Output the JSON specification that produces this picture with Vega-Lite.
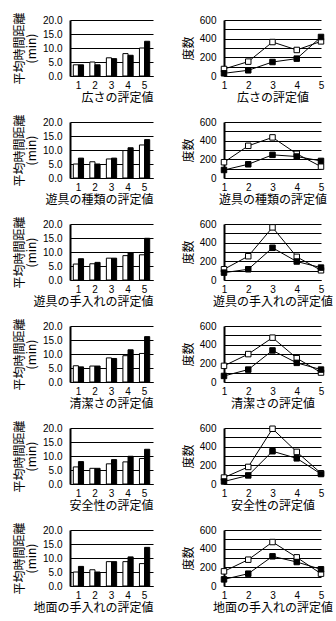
{
"$schema": "https://vega.github.io/schema/vega-lite/v6.json",
"background": "white",
"padding": {"left": 13, "top": 11, "right": 0, "bottom": 0},
"bounds": "flush",
"columns": 2,
"spacing": {"row": 46, "column": 71},
"datasets": {
"bars": [
{"item":"広さ","x":1,"g":"A","v":4.0},{"item":"広さ","x":2,"g":"A","v":5.0},{"item":"広さ","x":3,"g":"A","v":6.5},{"item":"広さ","x":4,"g":"A","v":8.0},{"item":"広さ","x":5,"g":"A","v":10.0},
{"item":"広さ","x":1,"g":"B","v":4.0},{"item":"広さ","x":2,"g":"B","v":4.0},{"item":"広さ","x":3,"g":"B","v":6.2},{"item":"広さ","x":4,"g":"B","v":7.4},{"item":"広さ","x":5,"g":"B","v":12.4},
{"item":"遊具の種類","x":1,"g":"A","v":5.0},{"item":"遊具の種類","x":2,"g":"A","v":5.8},{"item":"遊具の種類","x":3,"g":"A","v":6.8},{"item":"遊具の種類","x":4,"g":"A","v":9.8},{"item":"遊具の種類","x":5,"g":"A","v":11.8},
{"item":"遊具の種類","x":1,"g":"B","v":7.1},{"item":"遊具の種類","x":2,"g":"B","v":5.0},{"item":"遊具の種類","x":3,"g":"B","v":7.1},{"item":"遊具の種類","x":4,"g":"B","v":10.8},{"item":"遊具の種類","x":5,"g":"B","v":13.7},
{"item":"遊具の手入れ","x":1,"g":"A","v":5.7},{"item":"遊具の手入れ","x":2,"g":"A","v":5.8},{"item":"遊具の手入れ","x":3,"g":"A","v":7.8},{"item":"遊具の手入れ","x":4,"g":"A","v":8.7},{"item":"遊具の手入れ","x":5,"g":"A","v":9.0},
{"item":"遊具の手入れ","x":1,"g":"B","v":7.6},{"item":"遊具の手入れ","x":2,"g":"B","v":6.3},{"item":"遊具の手入れ","x":3,"g":"B","v":7.8},{"item":"遊具の手入れ","x":4,"g":"B","v":9.8},{"item":"遊具の手入れ","x":5,"g":"B","v":14.9},
{"item":"清潔さ","x":1,"g":"A","v":5.8},{"item":"清潔さ","x":2,"g":"A","v":5.7},{"item":"清潔さ","x":3,"g":"A","v":8.6},{"item":"清潔さ","x":4,"g":"A","v":9.4},{"item":"清潔さ","x":5,"g":"A","v":10.2},
{"item":"清潔さ","x":1,"g":"B","v":5.4},{"item":"清潔さ","x":2,"g":"B","v":5.7},{"item":"清潔さ","x":3,"g":"B","v":8.4},{"item":"清潔さ","x":4,"g":"B","v":11.5},{"item":"清潔さ","x":5,"g":"B","v":16.2},
{"item":"安全性","x":1,"g":"A","v":6.1},{"item":"安全性","x":2,"g":"A","v":5.6},{"item":"安全性","x":3,"g":"A","v":7.2},{"item":"安全性","x":4,"g":"A","v":7.9},{"item":"安全性","x":5,"g":"A","v":9.1},
{"item":"安全性","x":1,"g":"B","v":8.0},{"item":"安全性","x":2,"g":"B","v":5.6},{"item":"安全性","x":3,"g":"B","v":8.7},{"item":"安全性","x":4,"g":"B","v":9.9},{"item":"安全性","x":5,"g":"B","v":12.4},
{"item":"地面の手入れ","x":1,"g":"A","v":5.0},{"item":"地面の手入れ","x":2,"g":"A","v":5.8},{"item":"地面の手入れ","x":3,"g":"A","v":8.7},{"item":"地面の手入れ","x":4,"g":"A","v":8.7},{"item":"地面の手入れ","x":5,"g":"A","v":8.0},
{"item":"地面の手入れ","x":1,"g":"B","v":7.0},{"item":"地面の手入れ","x":2,"g":"B","v":5.0},{"item":"地面の手入れ","x":3,"g":"B","v":8.7},{"item":"地面の手入れ","x":4,"g":"B","v":10.4},{"item":"地面の手入れ","x":5,"g":"B","v":13.8}
],
"lines": [
{"item":"広さ","x":1,"g":"A","v":75},{"item":"広さ","x":2,"g":"A","v":154},{"item":"広さ","x":3,"g":"A","v":364},{"item":"広さ","x":4,"g":"A","v":279},{"item":"広さ","x":5,"g":"A","v":371},
{"item":"広さ","x":1,"g":"B","v":29},{"item":"広さ","x":2,"g":"B","v":61},{"item":"広さ","x":3,"g":"B","v":150},{"item":"広さ","x":4,"g":"B","v":186},{"item":"広さ","x":5,"g":"B","v":418},
{"item":"遊具の種類","x":1,"g":"A","v":169},{"item":"遊具の種類","x":2,"g":"A","v":345},{"item":"遊具の種類","x":3,"g":"A","v":435},{"item":"遊具の種類","x":4,"g":"A","v":259},{"item":"遊具の種類","x":5,"g":"A","v":122},
{"item":"遊具の種類","x":1,"g":"B","v":86},{"item":"遊具の種類","x":2,"g":"B","v":147},{"item":"遊具の種類","x":3,"g":"B","v":248},{"item":"遊具の種類","x":4,"g":"B","v":230},{"item":"遊具の種類","x":5,"g":"B","v":183},
{"item":"遊具の手入れ","x":1,"g":"A","v":115},{"item":"遊具の手入れ","x":2,"g":"A","v":255},{"item":"遊具の手入れ","x":3,"g":"A","v":564},{"item":"遊具の手入れ","x":4,"g":"A","v":248},{"item":"遊具の手入れ","x":5,"g":"A","v":104},
{"item":"遊具の手入れ","x":1,"g":"B","v":79},{"item":"遊具の手入れ","x":2,"g":"B","v":115},{"item":"遊具の手入れ","x":3,"g":"B","v":345},{"item":"遊具の手入れ","x":4,"g":"B","v":198},{"item":"遊具の手入れ","x":5,"g":"B","v":133},
{"item":"清潔さ","x":1,"g":"A","v":173},{"item":"清潔さ","x":2,"g":"A","v":299},{"item":"清潔さ","x":3,"g":"A","v":475},{"item":"清潔さ","x":4,"g":"A","v":255},{"item":"清潔さ","x":5,"g":"A","v":101},
{"item":"清潔さ","x":1,"g":"B","v":65},{"item":"清潔さ","x":2,"g":"B","v":133},{"item":"清潔さ","x":3,"g":"B","v":338},{"item":"清潔さ","x":4,"g":"B","v":205},{"item":"清潔さ","x":5,"g":"B","v":133},
{"item":"安全性","x":1,"g":"A","v":69},{"item":"安全性","x":2,"g":"A","v":183},{"item":"安全性","x":3,"g":"A","v":592},{"item":"安全性","x":4,"g":"A","v":344},{"item":"安全性","x":5,"g":"A","v":115},
{"item":"安全性","x":1,"g":"B","v":27},{"item":"安全性","x":2,"g":"B","v":92},{"item":"安全性","x":3,"g":"B","v":351},{"item":"安全性","x":4,"g":"B","v":275},{"item":"安全性","x":5,"g":"B","v":107},
{"item":"地面の手入れ","x":1,"g":"A","v":157},{"item":"地面の手入れ","x":2,"g":"A","v":282},{"item":"地面の手入れ","x":3,"g":"A","v":471},{"item":"地面の手入れ","x":4,"g":"A","v":307},{"item":"地面の手入れ","x":5,"g":"A","v":132},
{"item":"地面の手入れ","x":1,"g":"B","v":71},{"item":"地面の手入れ","x":2,"g":"B","v":132},{"item":"地面の手入れ","x":3,"g":"B","v":318},{"item":"地面の手入れ","x":4,"g":"B","v":257},{"item":"地面の手入れ","x":5,"g":"B","v":179}
]
},
"concat": [
{"width":83,"height":56,"data":{"name":"bars"},"transform":[{"filter":"datum.item==='広さ'"}],"mark":{"type":"bar","stroke":"black","strokeWidth":1},"encoding":{"x":{"field":"x","type":"ordinal","scale":{"paddingInner":0.38,"paddingOuter":0.2},"axis":{"title":"広さの評定値","titleAnchor":"end"}},"xOffset":{"field":"g","type":"nominal","scale":{"paddingInner":0}},"y":{"field":"v","type":"quantitative","scale":{"domain":[0,20]},"axis":{"values":[0,5,10,15,20],"format":".1f","title":["平均時間距離","(min)"]}},"fill":{"field":"g","type":"nominal","scale":{"domain":["A","B"],"range":["white","black"]},"legend":null}}},
{"width":97,"height":56,"data":{"name":"lines"},"transform":[{"filter":"datum.item==='広さ'"}],"encoding":{"x":{"field":"x","type":"ordinal","scale":{"type":"point","padding":0},"axis":{"title":"広さの評定値"}},"y":{"field":"v","type":"quantitative","scale":{"domain":[0,600]},"axis":{"values":[0,100,200,300,400,500,600],"title":"度数"}}},"layer":[{"mark":{"type":"line","color":"black","strokeWidth":1},"encoding":{"detail":{"field":"g"}}},{"mark":{"type":"point","shape":"square","filled":true,"stroke":"black","strokeWidth":1,"size":30,"opacity":1},"encoding":{"fill":{"field":"g","type":"nominal","scale":{"domain":["A","B"],"range":["white","black"]},"legend":null}}}]},
{"width":83,"height":56,"data":{"name":"bars"},"transform":[{"filter":"datum.item==='遊具の種類'"}],"mark":{"type":"bar","stroke":"black","strokeWidth":1},"encoding":{"x":{"field":"x","type":"ordinal","scale":{"paddingInner":0.38,"paddingOuter":0.2},"axis":{"title":"遊具の種類の評定値","titleAnchor":"end"}},"xOffset":{"field":"g","type":"nominal","scale":{"paddingInner":0}},"y":{"field":"v","type":"quantitative","scale":{"domain":[0,20]},"axis":{"values":[0,5,10,15,20],"format":".1f","title":["平均時間距離","(min)"]}},"fill":{"field":"g","type":"nominal","scale":{"domain":["A","B"],"range":["white","black"]},"legend":null}}},
{"width":97,"height":56,"data":{"name":"lines"},"transform":[{"filter":"datum.item==='遊具の種類'"}],"encoding":{"x":{"field":"x","type":"ordinal","scale":{"type":"point","padding":0},"axis":{"title":"遊具の種類の評定値"}},"y":{"field":"v","type":"quantitative","scale":{"domain":[0,600]},"axis":{"values":[0,100,200,300,400,500,600],"title":"度数"}}},"layer":[{"mark":{"type":"line","color":"black","strokeWidth":1},"encoding":{"detail":{"field":"g"}}},{"mark":{"type":"point","shape":"square","filled":true,"stroke":"black","strokeWidth":1,"size":30,"opacity":1},"encoding":{"fill":{"field":"g","type":"nominal","scale":{"domain":["A","B"],"range":["white","black"]},"legend":null}}}]},
{"width":83,"height":56,"data":{"name":"bars"},"transform":[{"filter":"datum.item==='遊具の手入れ'"}],"mark":{"type":"bar","stroke":"black","strokeWidth":1},"encoding":{"x":{"field":"x","type":"ordinal","scale":{"paddingInner":0.38,"paddingOuter":0.2},"axis":{"title":"遊具の手入れの評定値","titleAnchor":"end"}},"xOffset":{"field":"g","type":"nominal","scale":{"paddingInner":0}},"y":{"field":"v","type":"quantitative","scale":{"domain":[0,20]},"axis":{"values":[0,5,10,15,20],"format":".1f","title":["平均時間距離","(min)"]}},"fill":{"field":"g","type":"nominal","scale":{"domain":["A","B"],"range":["white","black"]},"legend":null}}},
{"width":97,"height":56,"data":{"name":"lines"},"transform":[{"filter":"datum.item==='遊具の手入れ'"}],"encoding":{"x":{"field":"x","type":"ordinal","scale":{"type":"point","padding":0},"axis":{"title":"遊具の手入れの評定値"}},"y":{"field":"v","type":"quantitative","scale":{"domain":[0,600]},"axis":{"values":[0,100,200,300,400,500,600],"title":"度数"}}},"layer":[{"mark":{"type":"line","color":"black","strokeWidth":1},"encoding":{"detail":{"field":"g"}}},{"mark":{"type":"point","shape":"square","filled":true,"stroke":"black","strokeWidth":1,"size":30,"opacity":1},"encoding":{"fill":{"field":"g","type":"nominal","scale":{"domain":["A","B"],"range":["white","black"]},"legend":null}}}]},
{"width":83,"height":56,"data":{"name":"bars"},"transform":[{"filter":"datum.item==='清潔さ'"}],"mark":{"type":"bar","stroke":"black","strokeWidth":1},"encoding":{"x":{"field":"x","type":"ordinal","scale":{"paddingInner":0.38,"paddingOuter":0.2},"axis":{"title":"清潔さの評定値","titleAnchor":"end"}},"xOffset":{"field":"g","type":"nominal","scale":{"paddingInner":0}},"y":{"field":"v","type":"quantitative","scale":{"domain":[0,20]},"axis":{"values":[0,5,10,15,20],"format":".1f","title":["平均時間距離","(min)"]}},"fill":{"field":"g","type":"nominal","scale":{"domain":["A","B"],"range":["white","black"]},"legend":null}}},
{"width":97,"height":56,"data":{"name":"lines"},"transform":[{"filter":"datum.item==='清潔さ'"}],"encoding":{"x":{"field":"x","type":"ordinal","scale":{"type":"point","padding":0},"axis":{"title":"清潔さの評定値"}},"y":{"field":"v","type":"quantitative","scale":{"domain":[0,600]},"axis":{"values":[0,100,200,300,400,500,600],"title":"度数"}}},"layer":[{"mark":{"type":"line","color":"black","strokeWidth":1},"encoding":{"detail":{"field":"g"}}},{"mark":{"type":"point","shape":"square","filled":true,"stroke":"black","strokeWidth":1,"size":30,"opacity":1},"encoding":{"fill":{"field":"g","type":"nominal","scale":{"domain":["A","B"],"range":["white","black"]},"legend":null}}}]},
{"width":83,"height":56,"data":{"name":"bars"},"transform":[{"filter":"datum.item==='安全性'"}],"mark":{"type":"bar","stroke":"black","strokeWidth":1},"encoding":{"x":{"field":"x","type":"ordinal","scale":{"paddingInner":0.38,"paddingOuter":0.2},"axis":{"title":"安全性の評定値","titleAnchor":"end"}},"xOffset":{"field":"g","type":"nominal","scale":{"paddingInner":0}},"y":{"field":"v","type":"quantitative","scale":{"domain":[0,20]},"axis":{"values":[0,5,10,15,20],"format":".1f","title":["平均時間距離","(min)"]}},"fill":{"field":"g","type":"nominal","scale":{"domain":["A","B"],"range":["white","black"]},"legend":null}}},
{"width":97,"height":56,"data":{"name":"lines"},"transform":[{"filter":"datum.item==='安全性'"}],"encoding":{"x":{"field":"x","type":"ordinal","scale":{"type":"point","padding":0},"axis":{"title":"安全性の評定値"}},"y":{"field":"v","type":"quantitative","scale":{"domain":[0,600]},"axis":{"values":[0,100,200,300,400,500,600],"title":"度数"}}},"layer":[{"mark":{"type":"line","color":"black","strokeWidth":1},"encoding":{"detail":{"field":"g"}}},{"mark":{"type":"point","shape":"square","filled":true,"stroke":"black","strokeWidth":1,"size":30,"opacity":1},"encoding":{"fill":{"field":"g","type":"nominal","scale":{"domain":["A","B"],"range":["white","black"]},"legend":null}}}]},
{"width":83,"height":56,"data":{"name":"bars"},"transform":[{"filter":"datum.item==='地面の手入れ'"}],"mark":{"type":"bar","stroke":"black","strokeWidth":1},"encoding":{"x":{"field":"x","type":"ordinal","scale":{"paddingInner":0.38,"paddingOuter":0.2},"axis":{"title":"地面の手入れの評定値","titleAnchor":"end"}},"xOffset":{"field":"g","type":"nominal","scale":{"paddingInner":0}},"y":{"field":"v","type":"quantitative","scale":{"domain":[0,20]},"axis":{"values":[0,5,10,15,20],"format":".1f","title":["平均時間距離","(min)"]}},"fill":{"field":"g","type":"nominal","scale":{"domain":["A","B"],"range":["white","black"]},"legend":null}}},
{"width":97,"height":56,"data":{"name":"lines"},"transform":[{"filter":"datum.item==='地面の手入れ'"}],"encoding":{"x":{"field":"x","type":"ordinal","scale":{"type":"point","padding":0},"axis":{"title":"地面の手入れの評定値"}},"y":{"field":"v","type":"quantitative","scale":{"domain":[0,600]},"axis":{"values":[0,100,200,300,400,500,600],"title":"度数"}}},"layer":[{"mark":{"type":"line","color":"black","strokeWidth":1},"encoding":{"detail":{"field":"g"}}},{"mark":{"type":"point","shape":"square","filled":true,"stroke":"black","strokeWidth":1,"size":30,"opacity":1},"encoding":{"fill":{"field":"g","type":"nominal","scale":{"domain":["A","B"],"range":["white","black"]},"legend":null}}}]}
],
"config": {
"font": "Noto Sans CJK JP",
"view": {"stroke": null},
"axis": {"domainColor": "black", "gridColor": "black", "gridOpacity": 1, "gridWidth": 1, "labelColor": "black", "titleColor": "black", "tickColor": "black", "labelFont": "Liberation Sans", "labelFontSize": 10, "titleFont": "Noto Sans CJK JP", "titleFontSize": 12, "titleFontWeight": "normal", "ticks": false},
"axisX": {"grid": false, "labelAngle": 0, "labelPadding": 4, "titlePadding": 2},
"axisY": {"domainWidth": 2, "labelPadding": 8, "titlePadding": 4, "titleLineHeight": 12}
}
}
